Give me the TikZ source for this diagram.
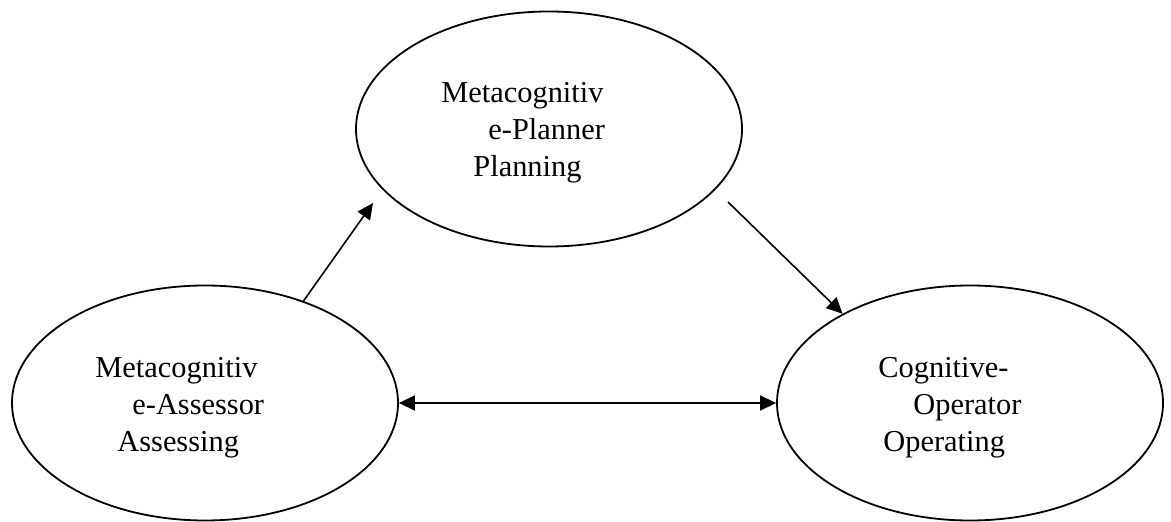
\documentclass[tikz,border=0pt]{standalone}
\usepackage{fontspec}
\setmainfont{Liberation Serif}
\usetikzlibrary{shapes.geometric,arrows.meta}

\begin{document}
\begin{tikzpicture}[x=0.5pt,y=0.5pt,>={Triangle[length=8pt,width=7.5pt]},
  stage node/.style={ellipse,draw,line width=0.9pt,minimum width=193pt,minimum height=117.5pt,inner sep=0pt},
  label node/.style={anchor=base west,inner sep=0pt,align=left,font=\fontsize{15.2}{18.5}\selectfont},
  link/.style={line width=0.8pt}]

\useasboundingbox (0,0) rectangle (1171,-522);

\node[stage node] (plan) at (549,-129) {};
\node[stage node] (assess) at (205,-403) {};
\node[stage node] (operate) at (970,-403) {};

% labels sit on the baseline of their last line
\node[label node] (planText) at (441,-177) {Metacognitiv\\\hspace*{23.5pt}e-Planner\\\hspace*{16pt}Planning};
\node[label node] (assessText) at (95,-452) {Metacognitiv\\\hspace*{18.5pt}e-Assessor\\\hspace*{11pt}Assessing};
\node[label node] (operateText) at (878,-452) {Cognitive-\\\hspace*{17.5pt}Operator\\\hspace*{2.5pt}Operating};

\coordinate (planIn) at (373,-203);
\coordinate (planOut) at (728,-202);

\draw[link,->] (assess.46) -- (planIn);
\draw[link,->] (planOut) -- (operate.145);
\draw[link,<->] (assess.east) -- (operate.west);
\end{tikzpicture}
\end{document}
